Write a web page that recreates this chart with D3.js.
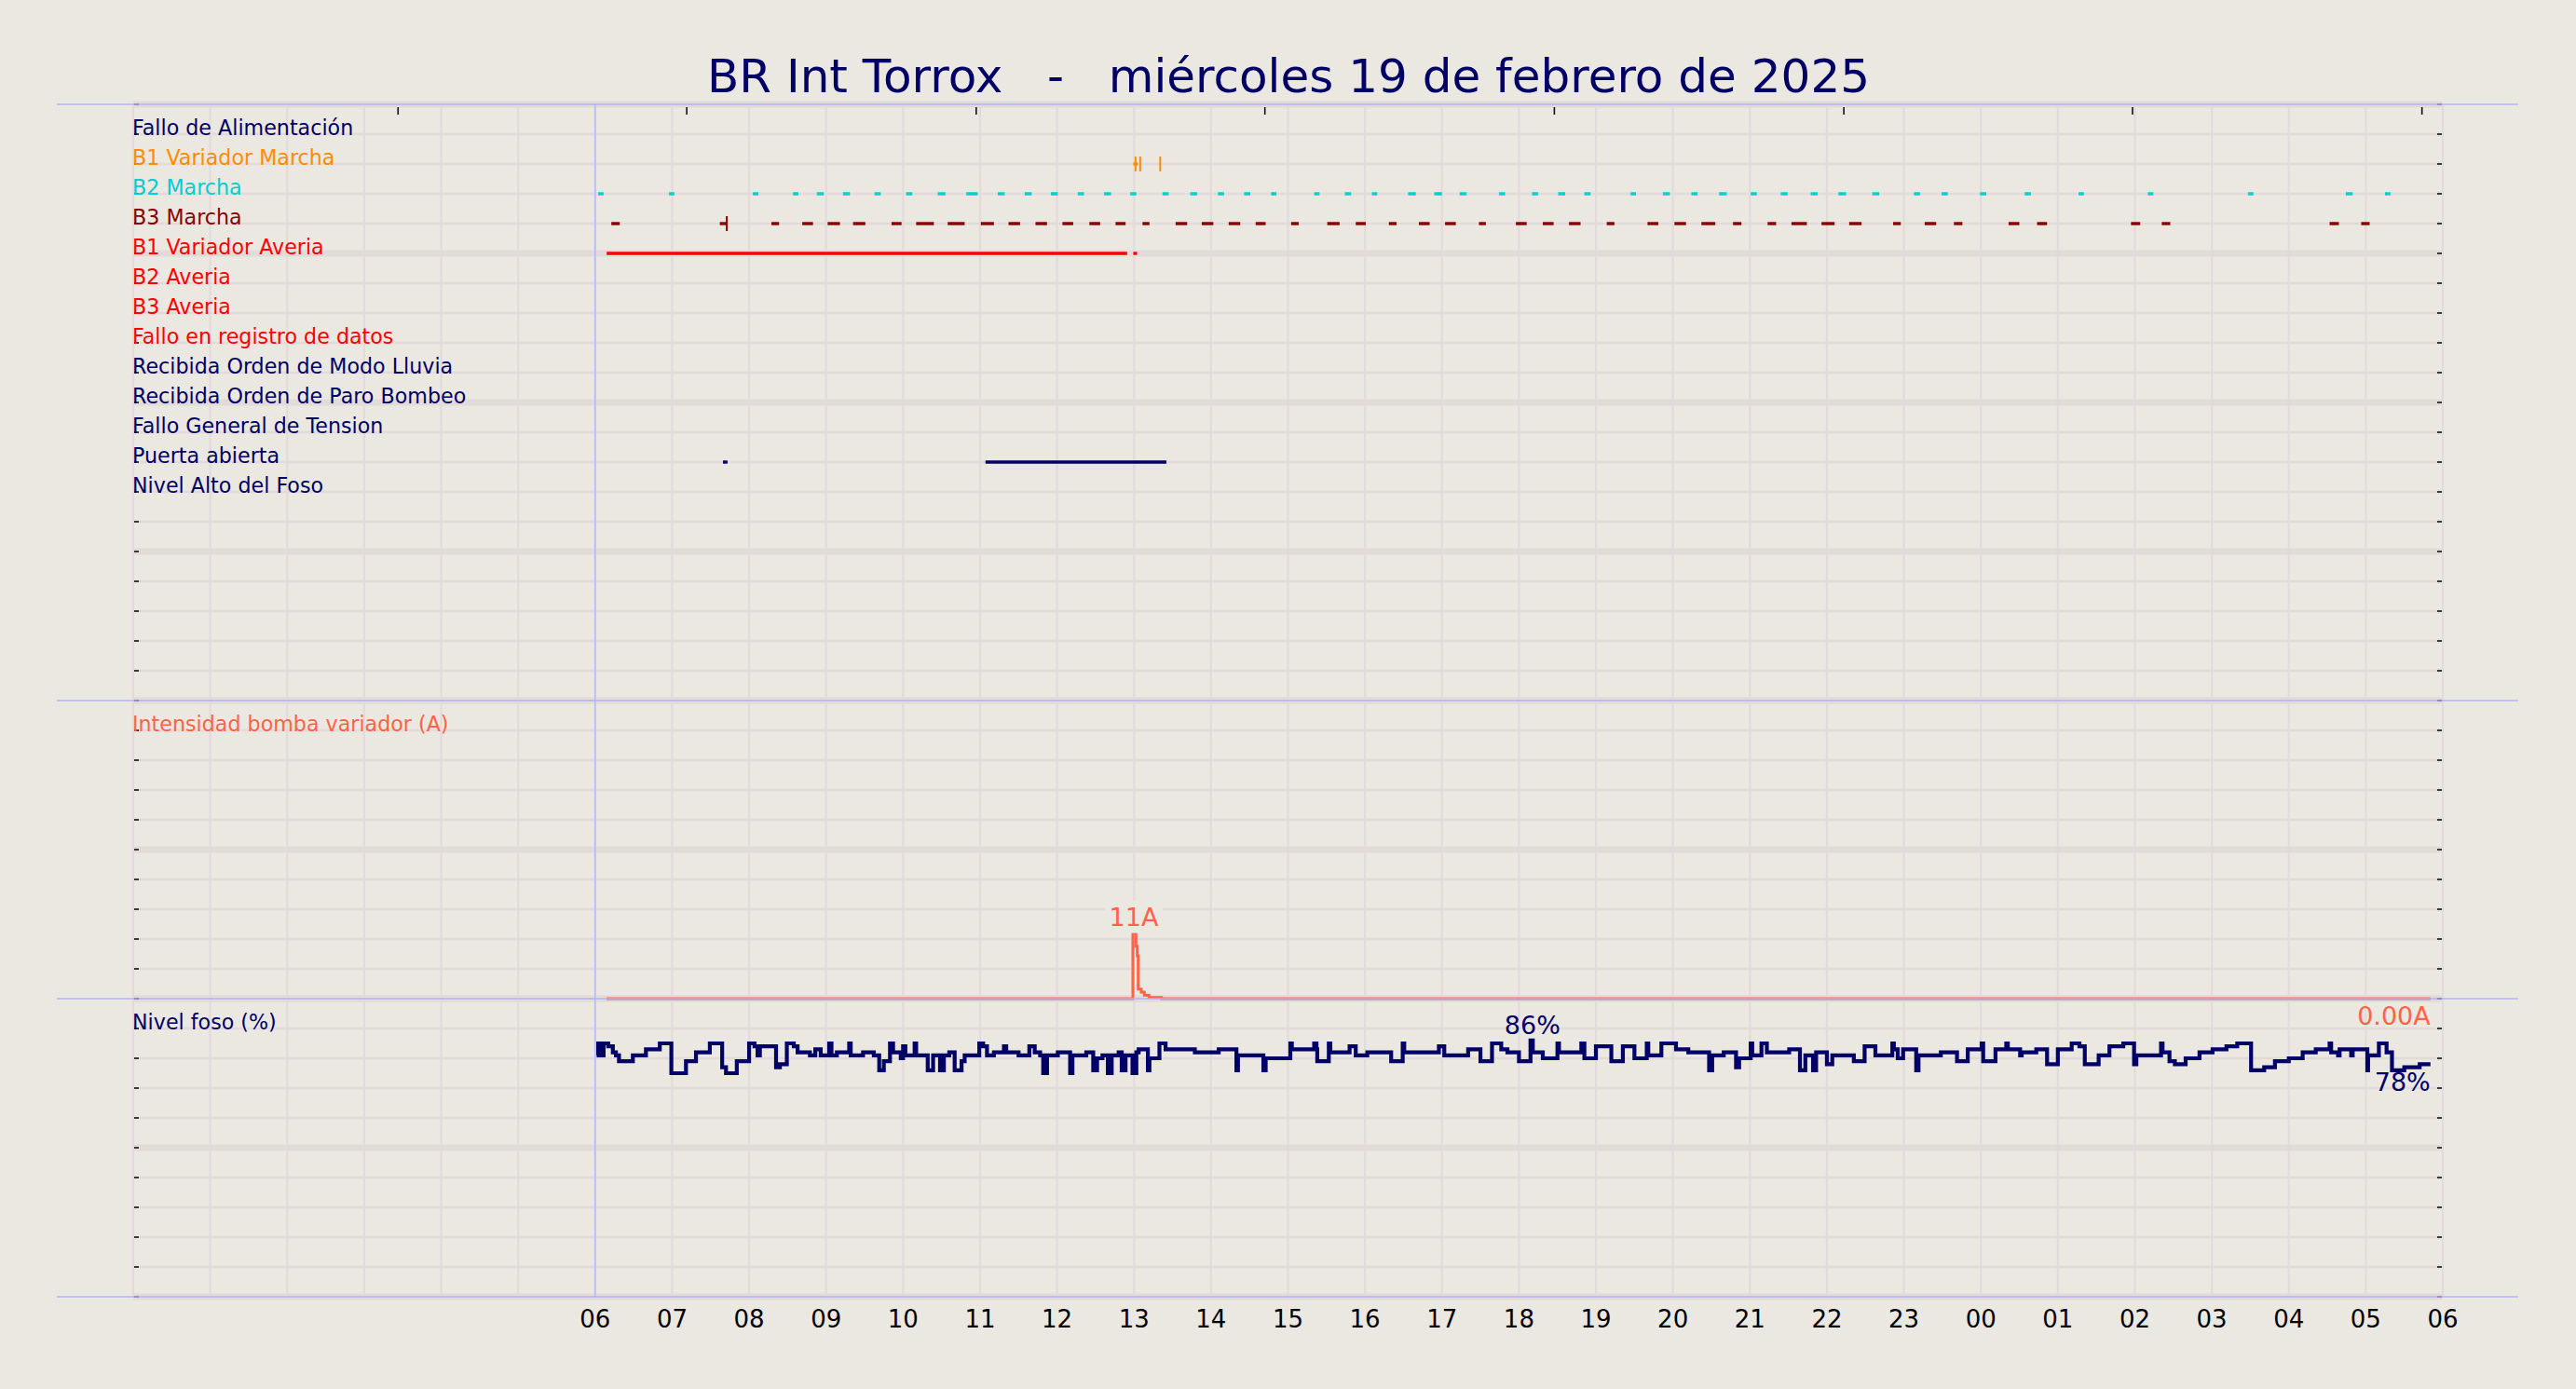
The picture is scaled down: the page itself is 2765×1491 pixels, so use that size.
<!DOCTYPE html>
<html><head><meta charset="utf-8">
<script src="https://cdn.jsdelivr.net/npm/d3@7"></script>
<style>
html,body{margin:0;padding:0;background:#ebe7e1;}
svg{display:block;font-family:"DejaVu Sans",sans-serif;}
</style>
</head><body>
<svg id="chart" width="2765" height="1491"></svg>
<script>
// ---------------- DATA ----------------
const titleText = "BR Int Torrox   -   miércoles 19 de febrero de 2025";
const signalNames = ["Fallo de Alimentación","B1 Variador Marcha","B2 Marcha","B3 Marcha","B1 Variador Averia","B2 Averia","B3 Averia","Fallo en registro de datos","Recibida Orden de Modo Lluvia","Recibida Orden de Paro Bombeo","Fallo General de Tension","Puerta abierta","Nivel Alto del Foso"];
const signalColors = ["#000066","#ff8c00","#00ced1","#8b0000","#ff0000","#ff0000","#ff0000","#ff0000","#000066","#000066","#000066","#000066","#000066"];
// on-intervals, hours since 06:00 of 19/02/2025
const falloAlim = [];
const b1VarMarcha = [[6.99,7.05]];
const b1VarMarchaPulses = [7.02,7.08,7.34];
const b2Marcha = [[0.04,0.11],[0.96,1.03],[2.05,2.12],[2.57,2.64],[2.88,2.97],[3.22,3.31],[3.63,3.71],[4.04,4.12],[4.45,4.55],[4.82,4.97],[5.23,5.32],[5.58,5.67],[5.92,6.01],[6.27,6.35],[6.61,6.70],[6.95,7.03],[7.37,7.45],[7.73,7.82],[8.09,8.17],[8.43,8.51],[8.78,8.85],[9.34,9.41],[9.74,9.82],[10.09,10.16],[10.56,10.66],[10.90,11.00],[11.23,11.32],[11.74,11.82],[12.17,12.25],[12.51,12.60],[12.85,12.93],[13.45,13.52],[13.87,13.96],[14.24,14.32],[14.60,14.70],[15.01,15.09],[15.40,15.49],[15.79,15.88],[16.15,16.25],[16.59,16.68],[17.13,17.21],[17.49,17.57],[17.99,18.07],[18.57,18.65],[19.27,19.34],[20.17,20.24],[21.47,21.54],[22.74,22.83],[23.25,23.32]];
const b3Marcha = [[0.21,0.32],[1.62,1.71],[2.29,2.39],[2.69,2.83],[3.02,3.18],[3.35,3.51],[3.85,3.98],[4.17,4.40],[4.58,4.80],[5.01,5.18],[5.37,5.52],[5.72,5.87],[6.07,6.21],[6.42,6.56],[6.76,6.89],[7.11,7.20],[7.54,7.69],[7.88,8.03],[8.23,8.38],[8.58,8.71],[9.04,9.14],[9.51,9.67],[9.88,10.01],[10.31,10.41],[10.70,10.84],[11.04,11.18],[11.48,11.57],[11.96,12.10],[12.31,12.45],[12.65,12.80],[13.14,13.24],[13.67,13.81],[14.02,14.17],[14.37,14.55],[14.78,14.89],[15.23,15.34],[15.54,15.74],[15.93,16.10],[16.29,16.45],[16.86,16.96],[17.27,17.42],[17.65,17.76],[18.36,18.50],[18.73,18.86],[19.95,20.07],[20.35,20.46],[22.53,22.65],[22.94,23.05]];
const b3MarchaPulses = [1.71];
const b1VarAveria = [[0.15,6.91],[6.99,7.04]];
const b2Averia = [];
const b3Averia = [];
const falloRegistro = [];
const ordenLluvia = [];
const ordenParo = [];
const falloTension = [];
const puertaAbierta = [[1.66,1.72],[5.07,7.42]];
const nivelAlto = [];
const signalIntervals = [falloAlim,b1VarMarcha,b2Marcha,b3Marcha,b1VarAveria,b2Averia,b3Averia,falloRegistro,ordenLluvia,ordenParo,falloTension,puertaAbierta,nivelAlto];
const signalPulses = [[],b1VarMarchaPulses,[],b3MarchaPulses,[],[],[],[],[],[],[],[],[]];

// Intensidad bomba variador (A): [hour since 06:00, amps]
const intensidad = [[0.15,0],[6.97,0],[6.985,11],[7.025,8.8],[7.042,7.2],[7.054,1.6],[7.094,1.1],[7.134,0.6],[7.194,0.2],[7.356,0],[23.84,0]];

// Nivel foso (%): [hour since 06:00, percent]
const nivel = [[0.02,81],[0.04,85],[0.07,81],[0.11,85],[0.17,84],[0.23,82],[0.27,81],[0.31,79],[0.49,81],[0.66,83],[0.84,85],[0.99,75],[1.18,79],[1.31,82],[1.49,85],[1.65,77],[1.70,75],[1.84,79],[2.00,85],[2.07,84],[2.11,81],[2.14,84],[2.35,77],[2.40,78],[2.49,85],[2.58,84],[2.63,82],[2.79,81],[2.86,83],[2.93,81],[3.04,85],[3.07,81],[3.14,82],[3.30,85],[3.32,81],[3.48,82],[3.62,81],[3.69,76],[3.75,79],[3.83,85],[3.87,82],[3.97,80],[4.00,84],[4.03,81],[4.15,85],[4.17,81],[4.32,76],[4.39,81],[4.48,76],[4.53,81],[4.60,82],[4.67,76],[4.76,79],[4.80,81],[4.99,85],[5.04,84],[5.09,81],[5.18,82],[5.31,84],[5.34,82],[5.50,81],[5.64,84],[5.71,82],[5.78,81],[5.82,75],[5.87,81],[6.01,82],[6.17,75],[6.20,81],[6.38,82],[6.47,76],[6.52,80],[6.59,81],[6.66,75],[6.71,81],[6.80,82],[6.84,76],[6.89,81],[6.98,75],[7.03,82],[7.06,83],[7.18,76],[7.20,80],[7.33,85],[7.41,83],[7.79,82],[8.10,83],[8.33,76],[8.35,81],[8.68,76],[8.71,80],[9.03,85],[9.05,83],[9.34,85],[9.37,83],[9.38,79],[9.53,85],[9.55,82],[9.80,84],[9.88,81],[10.03,82],[10.34,79],[10.49,85],[10.51,82],[10.96,84],[11.03,81],[11.34,83],[11.50,79],[11.65,85],[11.77,83],[11.85,82],[12.00,79],[12.15,86],[12.18,82],[12.31,80],[12.50,85],[12.52,82],[12.81,85],[12.85,80],[13.00,84],[13.20,79],[13.35,84],[13.50,80],[13.66,85],[13.68,81],[13.85,85],[14.04,83],[14.20,82],[14.47,76],[14.51,81],[14.66,82],[14.82,77],[14.86,80],[15.01,85],[15.03,81],[15.15,85],[15.22,82],[15.51,83],[15.65,76],[15.72,81],[15.82,76],[15.86,82],[16.00,78],[16.07,81],[16.35,79],[16.49,84],[16.63,81],[16.85,85],[16.87,83],[16.92,80],[16.99,83],[17.16,76],[17.19,81],[17.48,82],[17.69,79],[17.83,83],[18.01,85],[18.03,79],[18.19,83],[18.33,85],[18.35,83],[18.51,81],[18.53,82],[18.72,83],[18.86,78],[19.00,83],[19.18,85],[19.28,84],[19.35,78],[19.53,81],[19.67,84],[19.85,85],[19.99,78],[20.02,81],[20.34,85],[20.36,82],[20.45,79],[20.52,78],[20.66,80],[20.84,82],[21.01,83],[21.19,84],[21.33,85],[21.51,76],[21.68,77],[21.82,79],[22.00,80],[22.18,82],[22.35,83],[22.53,85],[22.55,82],[22.64,81],[22.66,83],[22.81,81],[22.83,83],[23.02,76],[23.03,81],[23.17,85],[23.27,82],[23.34,76],[23.50,77],[23.70,78],[23.84,78]];

// secondary (top) axis tick positions, hours since 06:00
const topAxisTicks = [-2.56,1.19,4.95,8.70,12.46,16.22,19.97,23.73];

// ---------------- CHART ----------------
const bg = "#ebe7e1", gridC = "#e1dcda", sepC = "#b3b3f7", navy = "#000066", tomato = "#ff6347";
const svg = d3.select("#chart");
svg.append("rect").attr("width",2765).attr("height",1491).attr("fill",bg);

const base = new Date(2025,1,19,6,0,0);
const toDate = h => new Date(base.getTime() + h*3600e3);
const L = 143, R = 2622;
const x = d3.scaleTime().domain([new Date(2025,1,19,0,0,0), new Date(2025,1,20,6,0,0)]).range([L,R]);
const yRows = d3.scaleLinear().domain([-1,19]).range([112,752]);
const yI = d3.scaleLinear().domain([0,50]).range([1072,752]);
const yN = d3.scaleLinear().domain([0,100]).range([1392,1072]);

// grid
const g = svg.append("g");
const hours = x.ticks(d3.timeHour.every(1));
g.selectAll("line.v").data(hours).join("line").attr("class","v")
  .attr("x1",d=>x(d)).attr("x2",d=>x(d)).attr("y1",112).attr("y2",1392)
  .attr("stroke",gridC).attr("stroke-width",2.2);
const hLines = [];
d3.range(-1,20).forEach(v=>hLines.push({y:yRows(v),thick:(v+1)%5===0}));
d3.range(0,51,5).forEach(v=>hLines.push({y:yI(v),thick:v%25===0}));
d3.range(0,101,10).forEach(v=>hLines.push({y:yN(v),thick:v%50===0}));
g.selectAll("line.h").data(hLines).join("line").attr("class","h")
  .attr("x1",L).attr("x2",R).attr("y1",d=>d.y).attr("y2",d=>d.y)
  .attr("stroke",gridC).attr("stroke-width",d=>d.thick?7:2.7);

// ticks left/right
g.selectAll("line.lt").data(hLines).join("line").attr("class","lt")
  .attr("x1",L+1).attr("x2",L+6).attr("y1",d=>d.y).attr("y2",d=>d.y)
  .attr("stroke","#111").attr("stroke-width",1.6);
g.selectAll("line.rt").data(hLines).join("line").attr("class","rt")
  .attr("x1",R-6).attr("x2",R-1).attr("y1",d=>d.y).attr("y2",d=>d.y)
  .attr("stroke","#111").attr("stroke-width",1.6);
// top ticks
g.selectAll("line.tt").data(topAxisTicks).join("line").attr("class","tt")
  .attr("x1",d=>x(toDate(d))).attr("x2",d=>x(toDate(d))).attr("y1",115).attr("y2",123)
  .attr("stroke","#111").attr("stroke-width",1.6);

// signals
const sg = svg.append("g");
signalIntervals.forEach((ivs,i)=>{
  sg.selectAll(null).data(ivs).join("line")
    .attr("x1",d=>x(toDate(d[0]))).attr("x2",d=>x(toDate(d[1])))
    .attr("y1",yRows(i)).attr("y2",yRows(i))
    .attr("stroke",signalColors[i]).attr("stroke-width",3.4);
  sg.selectAll(null).data(signalPulses[i]).join("line")
    .attr("x1",d=>x(toDate(d))).attr("x2",d=>x(toDate(d)))
    .attr("y1",yRows(i)-8).attr("y2",yRows(i)+8)
    .attr("stroke",signalColors[i]).attr("stroke-width",2);
});
// row labels
svg.append("g").selectAll("text").data(signalNames).join("text")
  .attr("x",L-1).attr("y",(d,i)=>yRows(i)+0.5)
  .attr("font-size",22.2).attr("fill",(d,i)=>signalColors[i]).text(d=>d);

// intensity
const lineI = d3.line().x(d=>x(toDate(d[0]))).y(d=>yI(d[1])).curve(d3.curveStepAfter);
svg.append("path").datum(intensidad).attr("d",lineI).attr("fill","none").attr("stroke",tomato).attr("stroke-width",3);
// nivel
const lineN = d3.line().x(d=>x(toDate(d[0]))).y(d=>yN(d[1])).curve(d3.curveStepAfter);
svg.append("path").datum(nivel).attr("d",lineN).attr("fill","none").attr("stroke",navy).attr("stroke-width",4.2);

// separators
const sep = svg.append("g");
sep.selectAll("line").data([112,752,1072,1392]).join("line")
  .attr("x1",61).attr("x2",2703).attr("y1",d=>d).attr("y2",d=>d)
  .attr("stroke",sepC).attr("stroke-width",1.6);
sep.append("line").attr("x1",x(base)).attr("x2",x(base)).attr("y1",112).attr("y2",1392)
  .attr("stroke",sepC).attr("stroke-width",1.4);

// panel labels
svg.append("text").attr("x",L-1).attr("y",yI(45)+0.5).attr("font-size",22.2).attr("fill",tomato).text("Intensidad bomba variador (A)");
svg.append("text").attr("x",L-1).attr("y",yN(90)+0.5).attr("font-size",22.2).attr("fill",navy).text("Nivel foso (%)");

// annotations
function annot(txt,px,py,anchor,color,withBox){
  const t = svg.append("text").attr("x",px).attr("y",py).attr("text-anchor",anchor)
    .attr("font-size",27).attr("fill",color).text(txt);
  if(withBox){
    const bb = t.node().getBBox();
    svg.insert("rect", function(){return t.node();}).attr("x",bb.x-4).attr("y",bb.y-2).attr("width",bb.width+8).attr("height",bb.height+4).attr("fill",bg);
  }
}
const maxI = intensidad.reduce((a,b)=>b[1]>a[1]?b:a);
annot(d3.format(".0f")(maxI[1])+"A", x(toDate(maxI[0]))+1, yI(maxI[1])-8, "middle", tomato, true);
const lastI = intensidad[intensidad.length-1];
annot(lastI[1].toFixed(2)+"A", x(toDate(lastI[0])), yI(lastI[1])+28, "end", tomato, false);
const maxN = nivel.reduce((a,b)=>b[1]>a[1]?b:a);
annot(maxN[1]+"%", x(toDate(maxN[0]))+2, yN(maxN[1])-7, "middle", navy, false);
const lastN = nivel[nivel.length-1];
annot(lastN[1]+"%", x(toDate(lastN[0])), yN(lastN[1])+29, "end", navy, false);

// x tick labels
const labelHours = hours.filter(d=>d>=base);
svg.append("g").selectAll("text").data(labelHours).join("text")
  .attr("x",d=>x(d)).attr("y",1425).attr("text-anchor","middle")
  .attr("font-size",26).attr("fill","#000").text(d3.timeFormat("%H"));

// title
svg.append("text").attr("x",1383).attr("y",99).attr("text-anchor","middle")
  .attr("font-size",50).attr("fill",navy).style("white-space","pre").attr("xml:space","preserve").text(titleText);
</script>
</body></html>
